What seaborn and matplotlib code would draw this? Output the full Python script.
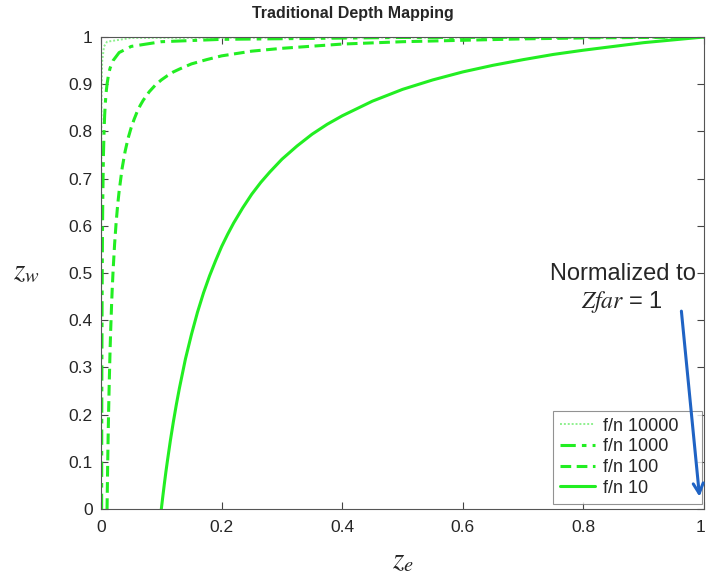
import matplotlib
matplotlib.use("Agg")
import matplotlib.pyplot as plt
import matplotlib.transforms as mtransforms
import seaborn as sns
import pandas as pd

# Values (z_e, z_w) for each far/near ratio
ze_10 = [0.1, 0.1025, 0.105, 0.1075, 0.11, 0.115, 0.12, 0.125, 0.13, 0.14, 0.15, 0.16, 0.17, 0.18, 0.19, 0.2,
         0.21, 0.22, 0.235, 0.25, 0.265, 0.28, 0.3, 0.325, 0.35, 0.375, 0.4, 0.45, 0.5, 0.55, 0.6, 0.65, 0.7,
         0.75, 0.8, 0.85, 0.9, 0.95, 1.0]
zw_10 = [0.0, 0.027, 0.053, 0.078, 0.101, 0.145, 0.185, 0.222, 0.256, 0.318, 0.370, 0.417, 0.458, 0.494, 0.526, 0.556,
         0.582, 0.606, 0.638, 0.667, 0.692, 0.714, 0.741, 0.769, 0.794, 0.815, 0.833, 0.864, 0.889, 0.909, 0.926, 0.940, 0.952,
         0.963, 0.972, 0.980, 0.988, 0.994, 1.0]

ze_100 = [0.01, 0.0105, 0.011, 0.0115, 0.012, 0.0125, 0.0135, 0.015, 0.016, 0.0175, 0.0185, 0.02, 0.0225, 0.025, 0.0275,
          0.03, 0.035, 0.04, 0.045, 0.05, 0.055, 0.06, 0.065, 0.07, 0.08, 0.09, 0.1, 0.11, 0.12, 0.13, 0.15, 0.175,
          0.2, 0.25, 0.3, 0.4, 0.5, 0.6, 0.7, 0.8, 0.9, 1.0]
zw_100 = [0.0, 0.048, 0.092, 0.132, 0.168, 0.202, 0.262, 0.337, 0.379, 0.433, 0.464, 0.505, 0.561, 0.606, 0.643,
          0.673, 0.722, 0.758, 0.786, 0.808, 0.826, 0.842, 0.855, 0.866, 0.884, 0.898, 0.909, 0.918, 0.926, 0.932, 0.943, 0.952,
          0.960, 0.970, 0.976, 0.985, 0.990, 0.993, 0.996, 0.998, 0.999, 1.0]

ze_1000 = [0.001, 0.00105, 0.0011, 0.0012, 0.00135, 0.0015, 0.00175, 0.002, 0.0025, 0.003, 0.004, 0.005, 0.006, 0.007,
           0.0085, 0.01, 0.0125, 0.015, 0.02, 0.03, 0.05, 0.1, 0.2, 0.5, 1.0]
zw_1000 = [0.0, 0.048, 0.091, 0.167, 0.260, 0.334, 0.429, 0.500, 0.600, 0.667, 0.750, 0.800, 0.834, 0.858,
           0.883, 0.900, 0.921, 0.934, 0.950, 0.967, 0.980, 0.990, 0.995, 0.999, 1.0]

ze_10000 = [0.0001, 0.00011, 0.00013, 0.00015, 0.0002, 0.0003, 0.0005, 0.001, 0.002, 0.005, 0.01, 0.05, 1.0]
zw_10000 = [0.0, 0.091, 0.231, 0.333, 0.500, 0.667, 0.800, 0.900, 0.950, 0.980, 0.990, 0.998, 1.0]

labels = ["f/n 10000", "f/n 1000", "f/n 100", "f/n 10"]
xticks = [0, 0.2, 0.4, 0.6, 0.8, 1]
yticks = [0, 0.1, 0.2, 0.3, 0.4, 0.5, 0.6, 0.7, 0.8, 0.9, 1]

sns.set_style("white")
plt.rcParams["font.family"] = ["Liberation Sans", "DejaVu Sans"]
plt.rcParams["mathtext.fontset"] = "stix"

fig = plt.figure(figsize=(7.07, 5.77), dpi=100)
ax = fig.add_axes([0.1429, 0.1179, 0.8529, 0.8180])

series = [
    (ze_10000, zw_10000, labels[0], (0, (1, 1)), "#8ef08e", 1.4),
    (ze_1000, zw_1000, labels[1], (0, (5, 2, 1.5, 2)), "#22ee22", 2.2),
    (ze_100, zw_100, labels[2], (0, (3.5, 1.8)), "#22ee22", 2.2),
    (ze_10, zw_10, labels[3], "-", "#22ee22", 2.2),
]
for xs, ys, lab, ls, col, lw in series:
    df = pd.DataFrame({"ze": xs, "zw": ys})
    sns.lineplot(data=df, x="ze", y="zw", ax=ax, color=col, linestyle=ls,
                 linewidth=lw, label=lab, sort=False, estimator=None)

ax.set_xlim(0, 1)
ax.set_ylim(0, 1)
ax.set_xticks(xticks)
ax.set_xticklabels(["0", "0.2", "0.4", "0.6", "0.8", "1"])
ax.set_yticks(yticks)
ax.set_yticklabels(["0", "0.1", "0.2", "0.3", "0.4", "0.5", "0.6", "0.7", "0.8", "0.9", "1"])
ax.tick_params(direction="in", length=5, width=0.8, color="#444444",
               top=True, right=True, bottom=True, left=True, labelsize=12.5, pad=6)
ax.tick_params(axis="x", pad=8)
# keep the last x tick label inside the canvas
last = ax.get_xticklabels()[-1]
last.set_transform(last.get_transform() + mtransforms.ScaledTranslation(-4 / 100, 0, fig.dpi_scale_trans))
for s in ax.spines.values():
    s.set_color("#555555")
    s.set_linewidth(0.8)

ax.set_xlabel("$z_e$", fontsize=21, labelpad=8)
ax.set_ylabel("$z_w$", fontsize=21, rotation=0, va="center", ha="center")
ax.yaxis.set_label_coords(-0.124, 0.505)
ax.set_title("Traditional Depth Mapping", fontsize=11.5, fontweight="bold", pad=14, x=0.418)

leg = ax.legend(loc="lower left", bbox_to_anchor=(0.7496, 0.011, 0.247, 0.2), mode="expand",
                fontsize=13, frameon=True, fancybox=False,
                edgecolor="#777777", borderaxespad=0.0, handlelength=1.9,
                handletextpad=0.45, labelspacing=0.2, borderpad=0.4)
leg.get_frame().set_linewidth(0.8)
leg.set_zorder(4)

ax.text(0.865, 0.497, "Normalized to", transform=ax.transAxes, fontsize=17,
        ha="center", va="center")
ax.text(0.864, 0.439, "$Zfar$ = 1", transform=ax.transAxes, fontsize=17,
        ha="center", va="center")
ax.annotate("", xy=(0.993, 0.02), xytext=(0.962, 0.425),
            xycoords="axes fraction", textcoords="axes fraction",
            arrowprops=dict(arrowstyle="->", color="#1f63c4", lw=2.2,
                            mutation_scale=18), zorder=10)

fig.savefig("out.png", dpi=100)
